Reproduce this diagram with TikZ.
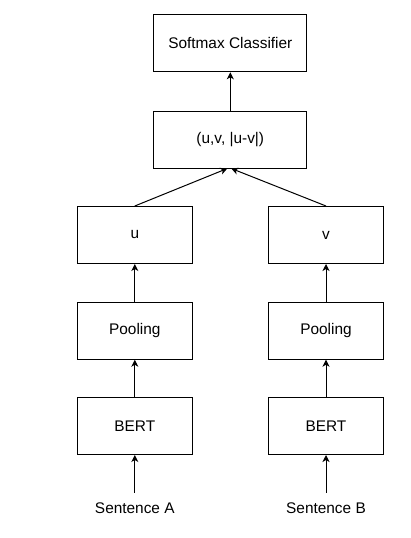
\documentclass[tikz,border=0pt]{standalone}
\usepackage{fontspec}
\setmainfont{Liberation Sans}
\usetikzlibrary{arrows.meta}
\begin{document}
\begin{tikzpicture}[x=1pt,y=-1pt,
  box/.style={draw=black,line width=1pt,rectangle,minimum height=57pt,inner sep=0pt,font=\fontsize{15.4}{18}\selectfont},
  wide/.style={box,minimum width=153pt},
  narrow/.style={box,minimum width=115pt},
  lbl/.style={inner xsep=0pt,inner ysep=9.5pt,font=\fontsize{15.4}{18}\selectfont},
  arr/.style={line width=1pt,-{Stealth[length=7pt,width=7pt,inset=2pt]}}]
\useasboundingbox (0,0) rectangle (411,538);
\node[wide] (soft) at (230.3,43.3) {Softmax Classifier};
\node[wide] (mid) at (230.3,139.5) {(u,v, |u-v|)};
\node[narrow] (u) at (134.8,235) {u};
\node[narrow] (v) at (326,235) {v};
\node[narrow] (poolA) at (134.8,330.7) {Pooling};
\node[narrow] (poolB) at (326,330.7) {Pooling};
\node[narrow] (bertA) at (134.8,426) {BERT};
\node[narrow] (bertB) at (326,426) {BERT};
\node[lbl] (sa) at (134.8,508) {Sentence A};
\node[lbl] (sb) at (326,508) {Sentence B};
\draw[arr] (sa.north) -- (bertA.south);
\draw[arr] (sb.north) -- (bertB.south);
\draw[arr] (bertA) -- (poolA);
\draw[arr] (bertB) -- (poolB);
\draw[arr] (poolA) -- (u);
\draw[arr] (poolB) -- (v);
\draw[arr] (u.north) -- ([xshift=-3pt]mid.south);
\draw[arr] (v.north) -- ([xshift=1pt]mid.south);
\draw[arr] (mid) -- (soft);
\end{tikzpicture}
\end{document}
